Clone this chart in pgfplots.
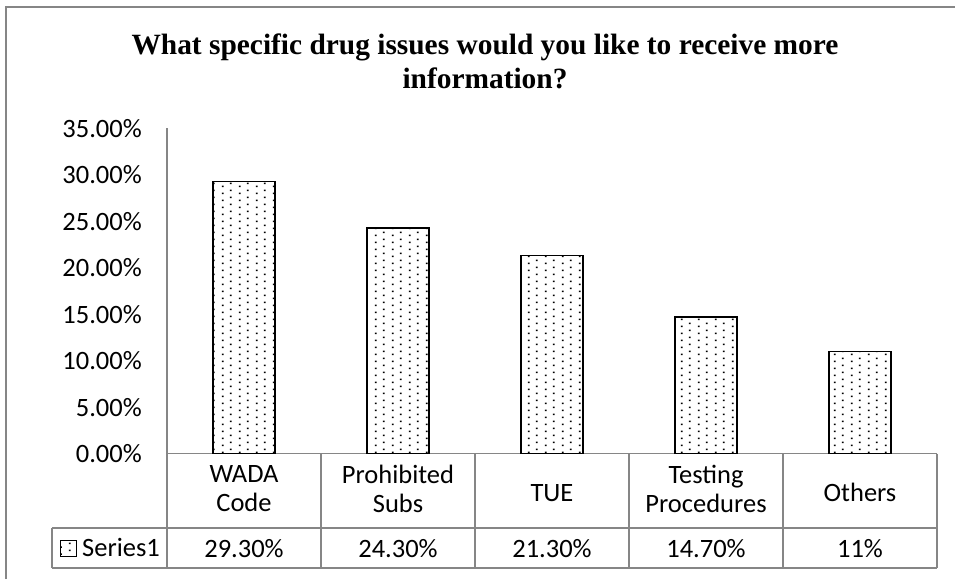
\documentclass[border=0pt]{standalone}
\usepackage{pgfplots}
\pgfplotsset{compat=1.18}
\usepackage{fontspec}
\setmainfont{Carlito}
\newfontfamily\titlefont{Liberation Serif}
\usetikzlibrary{patterns}

% sparse staggered dots, as in the Excel fill
\pgfdeclarepatternformonly{xdots}{\pgfqpoint{0pt}{0pt}}{\pgfqpoint{17pt}{7pt}}{\pgfqpoint{17pt}{7pt}}{%
  \pgfpathrectangle{\pgfqpoint{1pt}{1pt}}{\pgfqpoint{1.7pt}{1.7pt}}%
  \pgfpathrectangle{\pgfqpoint{9.5pt}{4.5pt}}{\pgfqpoint{1.7pt}{1.7pt}}%
  \pgfusepath{fill}}

\definecolor{gridgray}{RGB}{134,134,134}

\begin{document}
\begin{tikzpicture}[x=1pt,y=1pt]
\useasboundingbox (0,0) rectangle (955,-579);
% chart frame
\draw[gridgray, line width=1.3pt] (6,-579) -- (6,-7) -- (955,-7);
% title
\node[font=\titlefont\bfseries\fontsize{29.4}{34}\selectfont, anchor=base] at (485,-54)
  {What specific drug issues would you like to receive more};
\node[font=\titlefont\bfseries\fontsize{29.4}{34}\selectfont, anchor=base] at (485,-88)
  {information?};
% data table grid
\begin{scope}[gridgray, line width=1.3pt]
  \draw (167,-128) -- (167,-568);
  \draw (167,-453.5) -- (937,-453.5);
  \draw (52,-528) -- (937,-528);
  \draw (52,-568) -- (937,-568);
  \draw (52,-528) -- (52,-568);
  \foreach \x in {321,475,629,783,937} \draw (\x,-453.5) -- (\x,-568);
\end{scope}

\begin{axis}[
  at={(167pt,-453.5pt)}, anchor=south west,
  scale only axis, width=770pt, height=325pt,
  xmin=-0.5, xmax=4.5, ymin=0, ymax=35,
  axis line style={draw=none},
  clip=false,
  ybar, bar width=62pt,
  xtick={0,1,2,3,4},
  xticklabels={{WADA\\Code},{Prohibited\\Subs},{\rule{0pt}{25pt}TUE},
    {Testing\\Procedures},{\rule{0pt}{25pt}Others}},
  ytick={0,5,10,15,20,25,30,35},
  yticklabels={0.00\%,5.00\%,10.00\%,15.00\%,20.00\%,25.00\%,30.00\%,35.00\%},
  major tick style={draw=none},
  tick label style={font=\fontsize{26.5}{29.5}\selectfont},
  xticklabel style={align=center, anchor=center, yshift=-31pt},
  yticklabel style={anchor=east, inner sep=0pt, xshift=-25pt},
  legend style={at={(axis description cs:-0.139,-0.2923)}, anchor=west,
    draw=none, fill=none, inner sep=0pt,
    font=\fontsize{26.5}{29.5}\selectfont,
    nodes={inner xsep=5pt}},
  legend image code/.code={\draw[black, line width=1pt, pattern=xdots]
    (0pt,-7.5pt) rectangle (16pt,8pt);},
]
\addplot[draw=black, line width=1.5pt, pattern=xdots]
  coordinates {(0,29.3) (1,24.3) (2,21.3) (3,14.7) (4,11)};
\legend{Series1}
\begin{scope}[font=\fontsize{26.5}{29.5}\selectfont]
\node[yshift=-95pt] at (axis cs:0,0) {29.30\%};
\node[yshift=-95pt] at (axis cs:1,0) {24.30\%};
\node[yshift=-95pt] at (axis cs:2,0) {21.30\%};
\node[yshift=-95pt] at (axis cs:3,0) {14.70\%};
\node[yshift=-95pt] at (axis cs:4,0) {11\%};
\end{scope}
\end{axis}
\end{tikzpicture}
\end{document}
